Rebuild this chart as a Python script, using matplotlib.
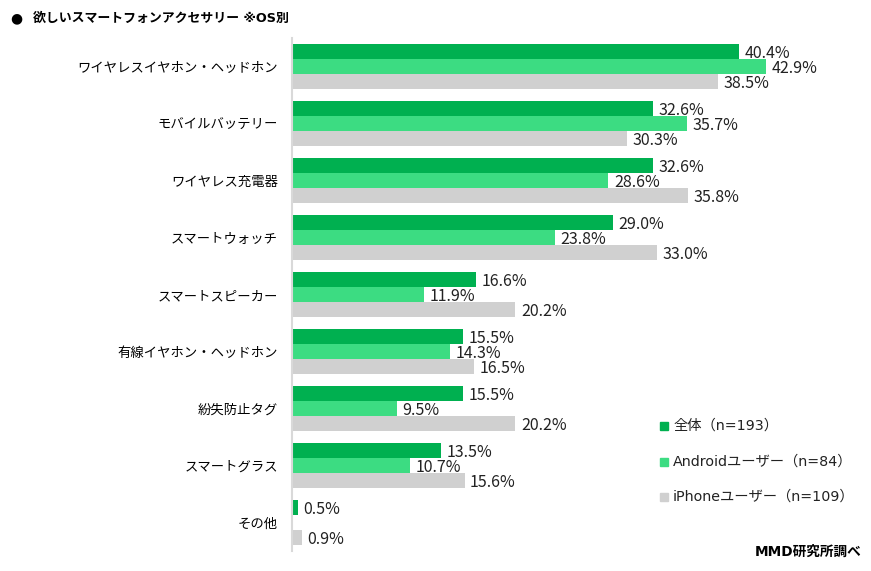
import matplotlib
matplotlib.use("Agg")
import matplotlib.pyplot as plt
import numpy as np

plt.rcParams['font.family'] = ['Noto Sans CJK JP', 'DejaVu Sans']
MIX = ['DejaVu Sans', 'Noto Sans CJK JP']

categories = ["ワイヤレスイヤホン・ヘッドホン", "モバイルバッテリー", "ワイヤレス充電器", "スマートウォッチ",
              "スマートスピーカー", "有線イヤホン・ヘッドホン", "紛失防止タグ", "スマートグラス", "その他"]
all_vals = [40.4, 32.6, 32.6, 29.0, 16.6, 15.5, 15.5, 13.5, 0.5]
android_vals = [42.9, 35.7, 28.6, 23.8, 11.9, 14.3, 9.5, 10.7, 0.0]
iphone_vals = [38.5, 30.3, 35.8, 33.0, 20.2, 16.5, 20.2, 15.6, 0.9]
series_names = ["全体（n=193）", "Androidユーザー（n=84）", "iPhoneユーザー（n=109）"]
colors = ["#00B050", "#3CDC82", "#D0D0D0"]

W, H = 871, 571
fig = plt.figure(figsize=(W/100, H/100), dpi=100)
ax_left, ax_top, ax_bottom, ax_right = 292, 38, 551, 845
ax = fig.add_axes([ax_left/W, 1-ax_bottom/H, (ax_right-ax_left)/W, (ax_bottom-ax_top)/H])

n = len(categories)
bh = 15/57
y = np.arange(n)
for i, (vals, c) in enumerate(zip([all_vals, android_vals, iphone_vals], colors)):
    pos = y + (i-1)*bh
    ax.barh(pos, vals, height=bh, color=c, label=series_names[i])
    for k, (p, v) in enumerate(zip(pos, vals)):
        if i == 1 and categories[k] == "その他":
            continue
        ax.text(v + 0.5, p + 0.03, f"{v:.1f}%", va='center', ha='left', fontsize=11.5,
                color='#222222')

ax.set_ylim(n-0.5, -0.5)
ax.set_xlim(0, 50)
ax.set_yticks(y)
ax.set_yticklabels(categories, fontsize=9.6)
ax.tick_params(axis='y', length=0, pad=10)
ax.set_xticks([])
for s in ['top', 'right', 'bottom']:
    ax.spines[s].set_visible(False)
ax.spines['left'].set_color('#D9D9D9')
ax.spines['left'].set_linewidth(1.5)

fig.text(10/W, 1-18/H, "●", fontsize=10, fontweight='bold', va='center', ha='left', family=MIX)
fig.text(33/W, 1-18/H, "欲しいスマートフォンアクセサリー ※OS別", fontsize=9.3, fontweight='bold',
         va='center', ha='left', family=MIX)

leg_y = [426, 462, 497]
for name, c, ly in zip(series_names, colors, leg_y):
    fig.patches.append(plt.Rectangle((660/W, 1-(ly+4)/H), 8/W, 8/H, transform=fig.transFigure, color=c))
    fig.text(673/W, 1-ly/H, name, fontsize=10.3, va='center', ha='left', color='#222222', family=MIX)

fig.text(861/W, 1-552/H, "MMD研究所調べ", fontsize=9.8, fontweight='bold', va='center', ha='right', family=MIX)

fig.savefig("out.png", dpi=100)
